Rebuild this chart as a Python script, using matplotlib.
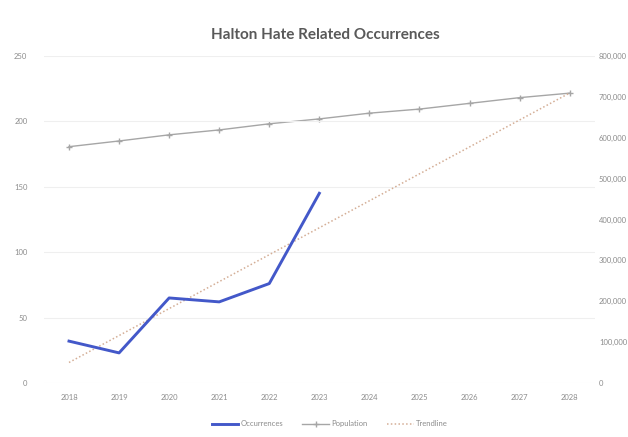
import numpy as np
import matplotlib
matplotlib.use("Agg")
import matplotlib.pyplot as plt
from matplotlib.ticker import FuncFormatter

# data
years = ["2018", "2019", "2020", "2021", "2022", "2023",
         "2024", "2025", "2026", "2027", "2028"]
occurrences = [32, 23, 65, 62, 76, 145]
population = [578000, 592000, 607000, 619000, 634000, 646000,
              660000, 670000, 684000, 698000, 709000]
left_ticks = [0, 50, 100, 150, 200, 250]
right_ticks = [0, 100000, 200000, 300000, 400000, 500000, 600000, 700000, 800000]

plt.rcParams['font.family'] = ['Lato', 'DejaVu Sans']

x_all = np.arange(len(years))
x_occ = np.arange(len(occurrences))

# linear trend of occurrences, carried forward to the last year
slope, intercept = np.polyfit(x_occ, occurrences, 1)
trend = intercept + slope * x_all

fig = plt.figure(figsize=(6.28, 4.37), dpi=100)
ax = fig.add_axes([0.070, 0.1236, 0.877, 0.7484])
ax2 = ax.twinx()

ax.plot(x_all, trend, linestyle=(0, (1, 1.5)), color="#D4AE96", lw=1.1,
        label="Trendline", zorder=2)
ax.plot(x_occ, occurrences, color="#4358C9", lw=2.1, label="Occurrences",
        zorder=4, solid_joinstyle="round")
ax2.plot(x_all, population, color="#A6A6A6", lw=1.0, marker="+",
         markersize=4, markeredgewidth=1.0, label="Population")

ax.set_xlim(-0.5, len(years) - 0.5)
ax.set_ylim(0, 250)
ax2.set_ylim(0, 800000)
ax.set_yticks(left_ticks)
ax2.set_yticks(right_ticks)
ax2.yaxis.set_major_formatter(FuncFormatter(lambda v, p: "0" if v == 0 else f"{v:,.0f}"))
ax.set_xticks(x_all)
ax.set_xticklabels(years)

ax.grid(axis="y", color="#EFEFEF", lw=0.8)
ax.set_axisbelow(True)
for a in (ax, ax2):
    for s in a.spines.values():
        s.set_visible(False)
    a.tick_params(length=0, labelsize=5.5, labelcolor="#8C8C8C")
ax.tick_params(axis="y", pad=12)
ax.tick_params(axis="x", pad=8)
ax2.tick_params(axis="y", pad=3)
ax.set_zorder(ax2.get_zorder() + 1)
ax.patch.set_visible(False)

fig.suptitle("Halton Hate Related Occurrences", x=0.518, y=0.937,
             fontsize=11, fontweight="bold", color="#595959")

h1, l1 = ax.get_legend_handles_labels()
h2, l2 = ax2.get_legend_handles_labels()
handles = [h1[1], h2[0], h1[0]]
labels = [l1[1], l2[0], l1[0]]
fig.legend(handles, labels, loc="center", bbox_to_anchor=(0.525, 0.03),
           ncol=3, frameon=False, fontsize=5.5, labelcolor="#8C8C8C",
           handlelength=3.5, columnspacing=2.5, handletextpad=0.3)

fig.savefig("out.png", dpi=100, facecolor="white")
